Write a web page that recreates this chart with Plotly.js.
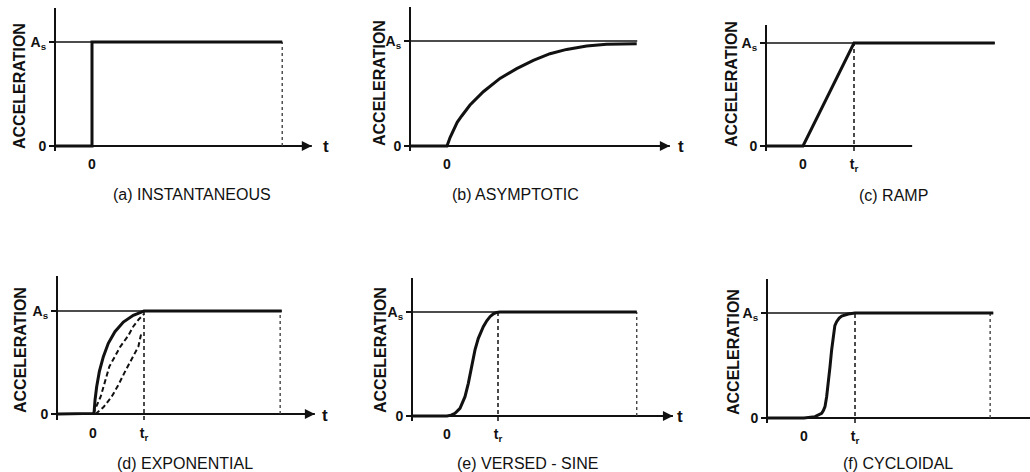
<!DOCTYPE html>
<html>
<head>
<meta charset="utf-8">
<script src="https://cdn.plot.ly/plotly-3.0.1.min.js"></script>
<style>html,body{margin:0;padding:0;background:#fff;}#chart{width:1030px;height:472px;}</style>
</head>
<body>
<div id="chart"></div>
<script>
// ---- data (t in units of rise time t_r, acceleration in units of A_s) ----
const captions = ['(a) INSTANTANEOUS', '(b) ASYMPTOTIC', '(c) RAMP', '(d) EXPONENTIAL', '(e) VERSED - SINE', '(f) CYCLOIDAL'];
const yTitle = 'ACCELERATION';
const yTickVals = [0, 1];
const yTickText = ['0', 'A<sub>s</sub>'];
const xTickValsA = [0];
const xTickTextA = ['0'];
const xTickValsB = [0, 1];
const xTickTextB = ['0', 't<sub>r</sub>'];

// (a) instantaneous
const instT = [-0.8, 0, 0, 3.73];
const instA = [0, 0, 1, 1];
// (b) asymptotic
const asymT = [-0.8, 0, 0.06, 0.124, 0.2, 0.288, 0.451, 0.712, 1.039, 1.366, 1.693, 2.02, 2.346, 2.739, 3.13, 3.72];
const asymA = [0, 0, 0.08, 0.152, 0.225, 0.286, 0.39, 0.517, 0.644, 0.737, 0.816, 0.879, 0.92, 0.952, 0.968, 0.975];
// (c) ramp
const rampT = [-0.8, 0, 1, 3.76];
const rampA = [0, 0, 1, 1];
// (d) exponential (three curves)
const expFastT = [-0.8, 0, 0.02, 0.04, 0.072, 0.124, 0.203, 0.30, 0.43, 0.595, 0.79, 0.9, 0.987, 1.0, 3.7];
const expFastA = [0, 0, 0.006, 0.136, 0.265, 0.411, 0.557, 0.686, 0.799, 0.893, 0.958, 0.98, 0.995, 1, 1];
const expMidT = [0, 0.15, 0.32, 0.53, 0.69, 0.79, 0.9, 1.0];
const expMidA = [0, 0.168, 0.46, 0.65, 0.76, 0.85, 0.92, 0.97];
const expSlowT = [0.05, 0.203, 0.366, 0.497, 0.627, 0.758, 0.889, 0.954];
const expSlowA = [0, 0.065, 0.168, 0.282, 0.411, 0.531, 0.654, 0.8];
// (e) versed-sine
const verT = [-0.8, 0, 0.08, 0.157, 0.255, 0.353, 0.418, 0.484, 0.549, 0.614, 0.712, 0.78, 0.843, 0.91, 0.974, 1.04, 3.72];
const verA = [0, 0, 0.008, 0.026, 0.074, 0.186, 0.314, 0.474, 0.635, 0.747, 0.859, 0.915, 0.955, 0.982, 0.996, 1, 1];
// (f) cycloidal
const cycT = [-0.8, 0, 0.216, 0.3, 0.346, 0.38, 0.412, 0.444, 0.477, 0.51, 0.542, 0.575, 0.605, 0.64, 0.69, 0.739, 0.869, 1.0, 3.71];
const cycA = [0, 0, 0.013, 0.03, 0.044, 0.07, 0.108, 0.203, 0.33, 0.489, 0.648, 0.806, 0.88, 0.917, 0.952, 0.971, 0.99, 1, 1];

// reference A_s line end, time-axis end, right boundary
const asEnd = [3.73, 3.73, 3.76, 3.7, 3.72, 3.71];
const axisEnd = [4.31, 4.37, 2.14, 4.35, 4.43, 4.45];
const rightEdge = [3.73, null, null, 3.67, 3.72, 3.65];
const hasArrow = [true, true, false, true, true, true];
const hasTr = [false, false, true, true, true, true];

// ---- layout geometry (pixels) ----
const W = 1030, H = 472;
const geo = [
  {ax: 56,  x0: 92,  u: 51, right: 316, zy: 146, sy: 42,  top: 8,   bot: 151, tTitleX: 20,  tTitleY: 86,  capX: 192, capY: 194, tX: 326, tY: 147},
  {ax: 411, x0: 447, u: 51, right: 674, zy: 146, sy: 41,  top: 7,   bot: 151, tTitleX: 380, tTitleY: 83,  capX: 515, capY: 194, tX: 681, tY: 146},
  {ax: 767, x0: 803, u: 51, right: 998, zy: 146, sy: 43,  top: 25,  bot: 151, tTitleX: 732, tTitleY: 84,  capX: 893, capY: 195, tX: null, tY: null},
  {ax: 58,  x0: 93,  u: 51, right: 318, zy: 414, sy: 311, top: 276, bot: 420, tTitleX: 20,  tTitleY: 350, capX: 185, capY: 463, tX: 325, tY: 415},
  {ax: 413, x0: 447, u: 51, right: 678, zy: 416, sy: 312, top: 278, bot: 421, tTitleX: 380, tTitleY: 350, capX: 527, capY: 463, tX: 680, tY: 416},
  {ax: 768, x0: 804, u: 51, right: 1030, zy: 418, sy: 313, top: 279, bot: 423, tTitleX: 733, tTitleY: 352, capX: 898, capY: 463, tX: null, tY: null}
];

const curves = [
  [{t: instT, a: instA}],
  [{t: asymT, a: asymA}],
  [{t: rampT, a: rampA}],
  [{t: expFastT, a: expFastA}, {t: expMidT, a: expMidA, dash: true}, {t: expSlowT, a: expSlowA, dash: true}],
  [{t: verT, a: verA}],
  [{t: cycT, a: cycA}]
];

const INK = '#111';
const FONT = 'Liberation Sans, Arial, sans-serif';
const traces = [];
const layout = {
  width: W, height: H,
  margin: {l: 0, r: 0, t: 0, b: 0},
  paper_bgcolor: '#fff', plot_bgcolor: 'rgba(0,0,0,0)',
  showlegend: false,
  font: {family: FONT, color: INK},
  annotations: []
};

geo.forEach((g, i) => {
  const n = i === 0 ? '' : String(i + 1);
  const xa = 'x' + n, ya = 'y' + n;
  const xL = (g.ax - g.x0) / g.u, xR = (g.right - g.x0) / g.u;
  const uy = g.zy - g.sy;
  const yB = (g.zy - g.bot) / uy, yT = (g.zy - g.top) / uy;
  const twoTicks = hasTr[i];
  layout['xaxis' + n] = {
    domain: [g.ax / W, g.right / W], range: [xL, xR], anchor: ya,
    showgrid: false, zeroline: false, showline: false, ticks: '',
    tickvals: twoTicks ? xTickValsB : xTickValsA,
    ticktext: twoTicks ? xTickTextB : xTickTextA,
    tickfont: {family: FONT, size: 14, color: INK, weight: 'bold'},
    ticklabelstandoff: 3,
    fixedrange: true
  };
  layout['yaxis' + n] = {
    domain: [1 - g.bot / H, 1 - g.top / H], range: [yB, yT], anchor: xa,
    showgrid: false, zeroline: false, showline: true, linecolor: INK, linewidth: 2,
    ticks: 'outside', ticklen: 5, tickwidth: 2, tickcolor: INK,
    tickvals: yTickVals, ticktext: yTickText,
    tickfont: {family: FONT, size: 14, color: INK, weight: 'bold'},
    fixedrange: true
  };
  // time axis
  traces.push({x: [xL, axisEnd[i]], y: [0, 0], xaxis: xa, yaxis: ya, mode: 'lines',
    line: {color: INK, width: 2}, hoverinfo: 'skip'});
  // A_s reference
  traces.push({x: [xL, asEnd[i]], y: [1, 1], xaxis: xa, yaxis: ya, mode: 'lines',
    line: {color: INK, width: 1.6}, hoverinfo: 'skip'});
  // t_r marker
  if (hasTr[i]) {
    traces.push({x: [1, 1], y: [yB, 1], xaxis: xa, yaxis: ya, mode: 'lines',
      line: {color: INK, width: 1.5, dash: '4px,3px'}, hoverinfo: 'skip'});
  }
  if (rightEdge[i] !== null) {
    traces.push({x: [rightEdge[i], rightEdge[i]], y: [0, 1], xaxis: xa, yaxis: ya, mode: 'lines',
      line: {color: '#444', width: 1.4, dash: 'dot'}, hoverinfo: 'skip'});
  }
  curves[i].forEach(c => {
    traces.push({x: c.t, y: c.a, xaxis: xa, yaxis: ya, mode: 'lines',
      line: {color: INK, width: c.dash ? 2 : 3, dash: c.dash ? '5px,3px' : 'solid', shape: 'linear'},
      hoverinfo: 'skip'});
  });
  if (hasArrow[i]) {
    layout.annotations.push({x: axisEnd[i], y: 0, xref: xa, yref: ya, text: '', showarrow: true,
      arrowhead: 2, arrowsize: 1, arrowwidth: 2, arrowcolor: INK, ax: -12, ay: 0});
  }
  if (g.tX !== null) {
    layout.annotations.push({x: g.tX / W, y: 1 - g.tY / H, xref: 'paper', yref: 'paper', text: 't',
      showarrow: false, font: {family: FONT, size: 17, color: INK, weight: 'bold'}, xanchor: 'center', yanchor: 'middle'});
  }
  layout.annotations.push({x: g.tTitleX / W, y: 1 - g.tTitleY / H, xref: 'paper', yref: 'paper', text: yTitle,
    textangle: -90, showarrow: false, font: {family: FONT, size: 16, color: INK, weight: 'bold'},
    xanchor: 'center', yanchor: 'middle'});
  layout.annotations.push({x: g.capX / W, y: 1 - g.capY / H, xref: 'paper', yref: 'paper', text: captions[i],
    showarrow: false, font: {family: FONT, size: 16, color: INK}, xanchor: 'center', yanchor: 'middle'});
});

Plotly.newPlot('chart', traces, layout, {staticPlot: true, displayModeBar: false});
</script>
</body>
</html>
